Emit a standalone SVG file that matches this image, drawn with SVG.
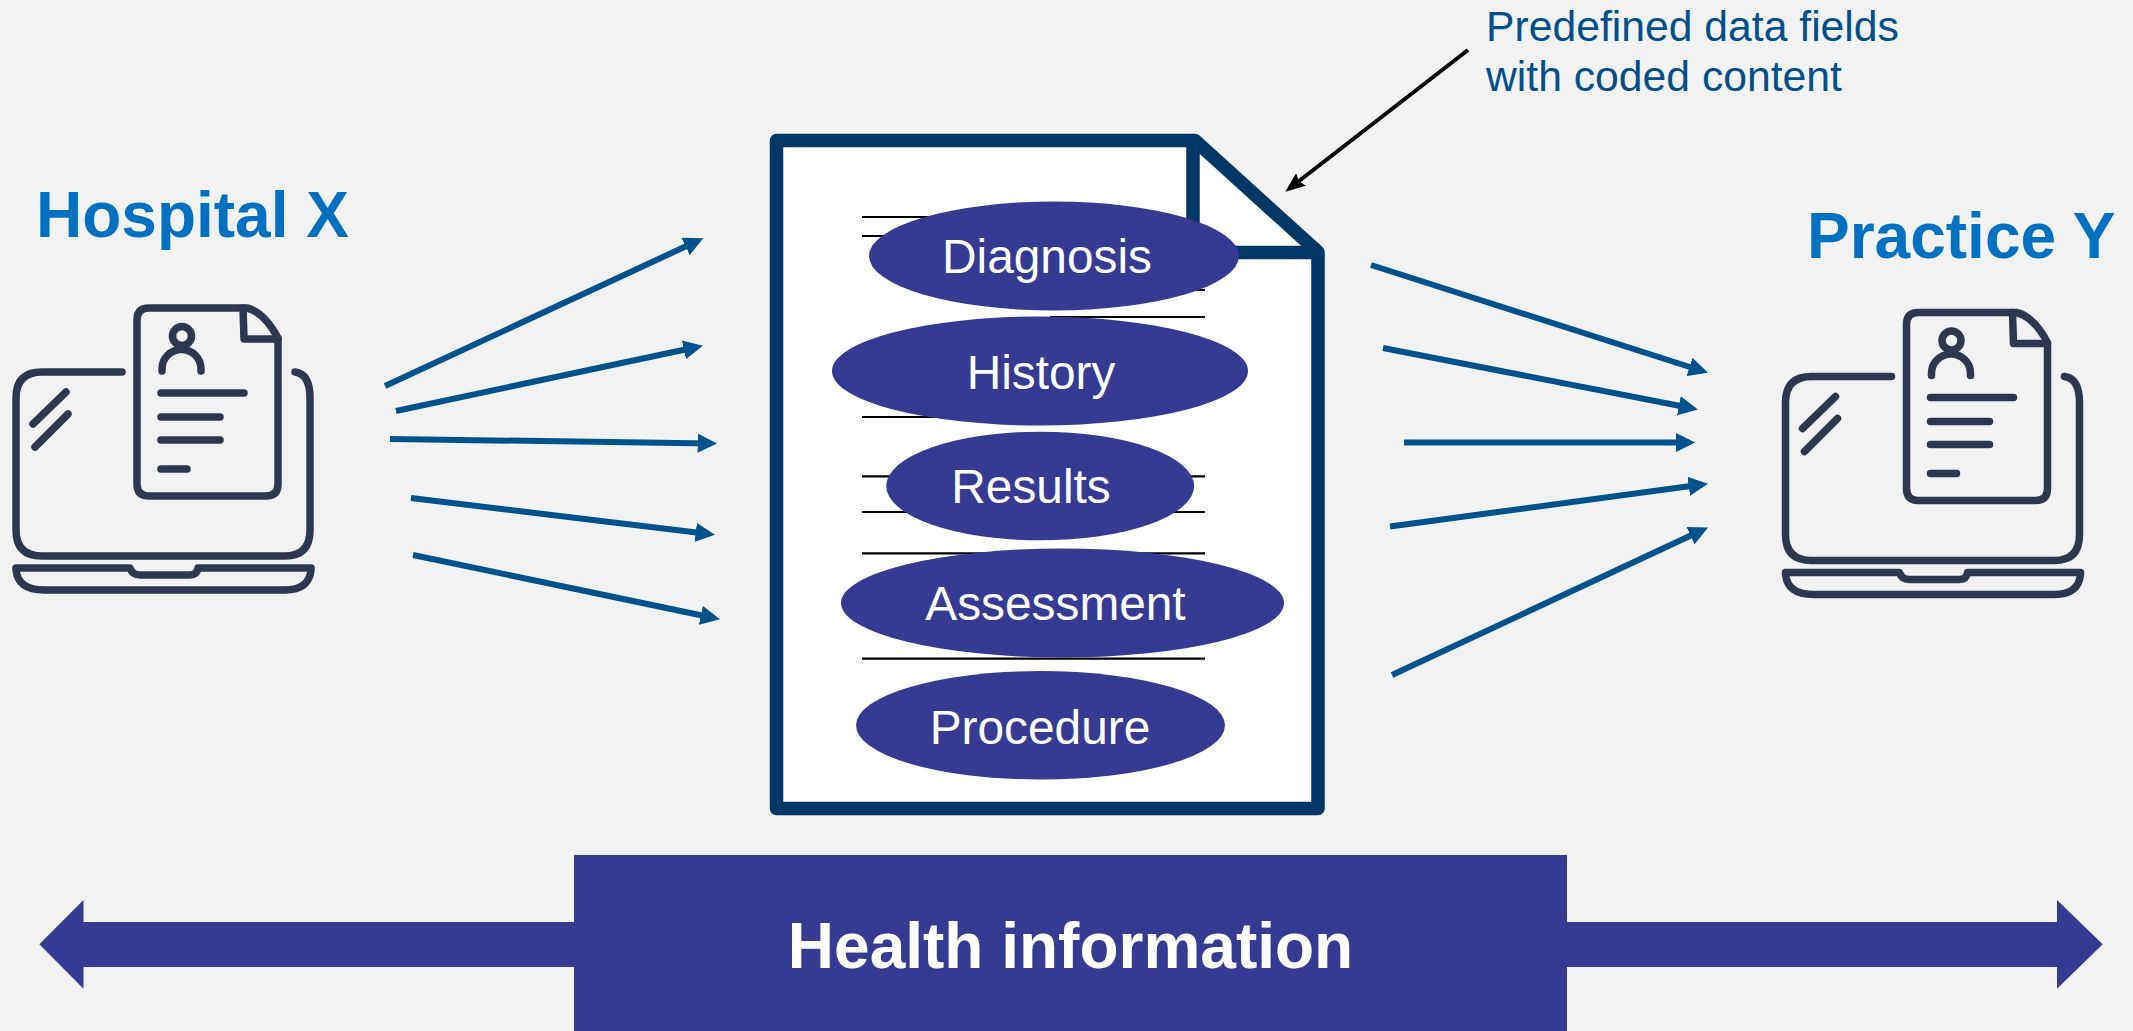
<svg xmlns="http://www.w3.org/2000/svg" width="2133" height="1031" viewBox="0 0 2133 1031">
<style>
text{font-family:"Liberation Sans",Arial,sans-serif}
.ic{fill:none;stroke:#2d3850;stroke-width:7.5;stroke-linecap:round;stroke-linejoin:round}
.title{font-size:64px;font-weight:700;fill:#0070c0}
.note{font-size:42.7px;fill:#004f8c}
.el{fill:#373a92}
.lb{font-size:47.8px;fill:#fff;text-anchor:middle}
.rule{stroke:#000;stroke-width:2.2}
.flow{stroke:#00528c;stroke-width:6;fill:none;marker-end:url(#ah)}
</style>
<defs>
<marker id="ah" markerUnits="userSpaceOnUse" markerWidth="20" markerHeight="20" viewBox="0 0 20 20" refX="13.4" refY="10" orient="auto"><path d="M0 .4L19.4 10L0 19.6Z" fill="#00528c"/></marker>
<marker id="ak" markerUnits="userSpaceOnUse" markerWidth="20" markerHeight="16" viewBox="0 0 20 16" refX="14" refY="8" orient="auto"><path d="M0 0L20 8L0 16L3 8Z" fill="#000"/></marker>
<g id="laptop" class="ic">
<path d="M122 372H42Q16 372 16 398V530Q16 556 42 556H285Q310 556 310 530V398Q310 374 295 372"/>
<path d="M16 568H130Q132 575 140 575H190Q197 575 198 568H311V570Q309 590 285 590H44Q18 590 16 570Z"/>
<path d="M149 308H247Q264 312 278 338V484Q278 496 266 496H149Q137 496 137 484V320Q137 308 149 308Z"/>
<path d="M243 308L244 339H278"/>
<circle cx="182" cy="336" r="9.5"/>
<path d="M162 371V369A19.5 19.5 0 0 1 201 369V371"/>
<path d="M161 393H244M161 417H220M161 440H220M161 469H187M33 424L66 392M35 447L68 414"/>
</g>
</defs>
<rect id="background" width="2133" height="1031" fill="#f2f2f2"/>
<g id="hospital-x">
<use href="#laptop"/>
<text class="title" x="36" y="237">Hospital X</text>
</g>
<g id="practice-y">
<use href="#laptop" transform="translate(1769.5 4.5)"/>
<text class="title" x="1807" y="258">Practice Y</text>
</g>
<g id="document">
<path d="M776.5 140.5H1195L1318 252V808.5H776.5Z" fill="#fff" stroke="#003764" stroke-width="13.5" stroke-linejoin="round"/>
<path d="M1193 141V252.5H1318" fill="none" stroke="#003764" stroke-width="13.5"/>
<path class="rule" d="M862 217H1100M862 236H1100M1050 290H1205M1050 317H1205M862 417H1100M862 476.3H1205M862 512H1205M862 553.3H1205M862 658.7H1205"/>
</g>
<g id="diagnosis"><ellipse class="el" cx="1054" cy="256" rx="185" ry="54.5"/><text class="lb" x="1047" y="273">Diagnosis</text></g>
<g id="history"><ellipse class="el" cx="1040" cy="371" rx="208" ry="54.5"/><text class="lb" x="1041" y="389">History</text></g>
<g id="results"><ellipse class="el" cx="1040.2" cy="486" rx="154" ry="54.3"/><text class="lb" x="1031" y="503.3">Results</text></g>
<g id="assessment"><ellipse class="el" cx="1062.5" cy="603" rx="221.5" ry="54.5"/><text class="lb" x="1055.5" y="620">Assessment</text></g>
<g id="procedure"><ellipse class="el" cx="1040.5" cy="725.3" rx="184.5" ry="54.3"/><text class="lb" x="1040" y="743.5">Procedure</text></g>
<g id="note">
<text class="note" x="1486" y="41">Predefined data fields</text>
<text class="note" x="1486" y="91">with coded content</text>
</g>
<g id="connectors">
<path class="flow" d="M385 386L697.8 240.8"/>
<path class="flow" d="M396 411L697 347"/>
<path class="flow" d="M390 439L711 443.4"/>
<path class="flow" d="M411 498L709 534"/>
<path class="flow" d="M413 555L714 618"/>
<path class="flow" d="M1371 265L1702.3 371"/>
<path class="flow" d="M1383 348L1692 408.3"/>
<path class="flow" d="M1404 442.5H1689"/>
<path class="flow" d="M1390 526.5L1702 484.5"/>
<path class="flow" d="M1392 675L1702.6 530"/>
<path d="M1468 50L1290 188" stroke="#000" stroke-width="4" fill="none" marker-end="url(#ak)"/>
</g>
<g id="health-information">
<path d="M39.3 944.3L83.5 900V922H574V967H83.5V988.7ZM2102.7 944.3L2057 900V922H1567V967H2057V988.7Z" fill="#373a92"/>
<rect x="574" y="855" width="993" height="176" fill="#373a92"/>
<text x="1070.5" y="968" font-size="64" font-weight="700" fill="#fff" text-anchor="middle">Health information</text>
</g>
</svg>
